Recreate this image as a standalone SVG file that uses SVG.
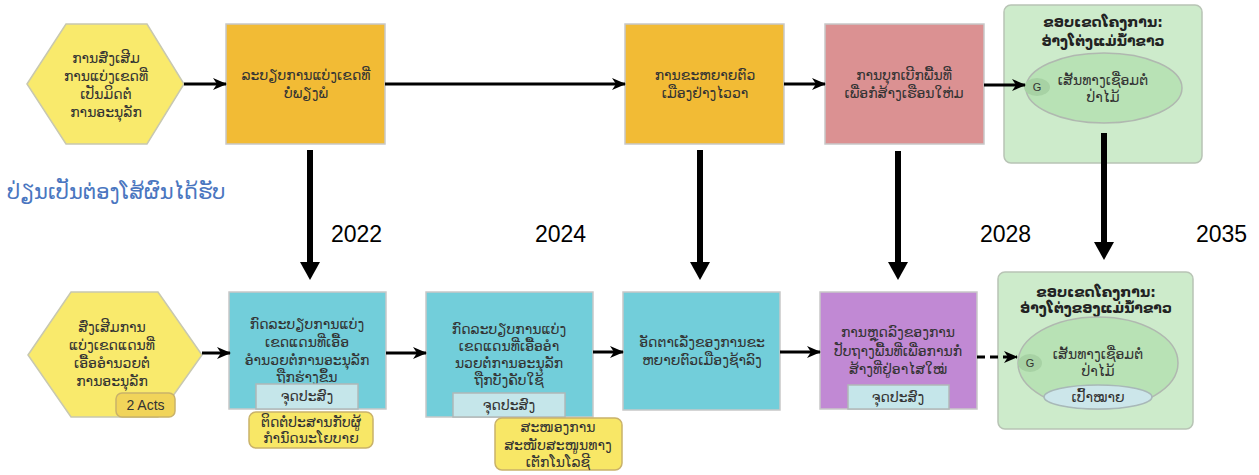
<svg xmlns="http://www.w3.org/2000/svg" width="1259" height="475" viewBox="0 0 1259 475">
<style>
.t{font-family:"DejaVu Sans","Noto Sans",sans-serif;font-size:14px;fill:#333;text-anchor:middle}
.b{font-weight:bold;fill:#222}
.yr{font-family:"Liberation Sans",Arial,sans-serif;font-size:23px;fill:#000}
.hex{fill:#f9ea6c;stroke:#c8c8b0;stroke-width:1.5}
.org{fill:#f2bb35;stroke:#c8c8c8;stroke-width:1.5}
.pink{fill:#db9192;stroke:#c8c8c8;stroke-width:1.5}
.cyan{fill:#72ceda;stroke:#c8c8c8;stroke-width:1.5}
.purp{fill:#c189d4;stroke:#c8c8c8;stroke-width:1.5}
.sub{fill:#c5e6ea;stroke:#b0b8b8;stroke-width:1.5}
.note{fill:#f8e766;stroke:#c9b26a;stroke-width:1.5}
.cont{fill:#cdebcb;stroke:#b8c4b5;stroke-width:1.5}
.ell{fill:#b8e2b5;stroke:#b0b8b0;stroke-width:1.5}
.g{fill:#a7d2a4}
.h{stroke:#000;stroke-width:3;fill:none}
.v{stroke:#000;stroke-width:6;fill:none}
</style>
<defs>
<marker id="ah" markerWidth="14" markerHeight="12" refX="13" refY="6" orient="auto" markerUnits="userSpaceOnUse"><path d="M0,0 L14,6 L0,12 L4,6 z" fill="#000"/></marker>
<marker id="ahb" markerWidth="20" markerHeight="20" refX="3" refY="10" orient="auto" markerUnits="userSpaceOnUse"><path d="M0,0 L18,10 L0,20 z" fill="#000"/></marker>
</defs>

<text x="7" y="199" style="font-family:'DejaVu Sans','Noto Sans',sans-serif;font-size:21px;fill:#4a76c0">ປ່ຽນເປັນຕ່ອງໂສ້ຜົນໄດ້ຮັບ</text>
<text class="yr" x="331" y="242">2022</text>
<text class="yr" x="535" y="242">2024</text>
<text class="yr" x="980" y="242">2028</text>
<text class="yr" x="1196" y="242">2035</text>

<g id="hex1">
<polygon class="hex" points="27,84 66,24 147,24 184,84 147,144 66,144"/>
<text class="t"><tspan x="106" y="63">ການສົ່ງເສີມ</tspan><tspan x="106" y="81">ການແບ່ງເຂດທີ່</tspan><tspan x="106" y="99">ເປັນມິດຕໍ່</tspan><tspan x="106" y="117">ການອະນຸລັກ</tspan></text>
</g>
<g id="box2">
<rect class="org" x="226" y="24" width="159" height="120"/>
<text class="t"><tspan x="306" y="80">ລະບຽບການແບ່ງເຂດທີ່</tspan><tspan x="306" y="98">ບໍ່ພຽງພໍ</tspan></text>
</g>
<g id="box3">
<rect class="org" x="625" y="24" width="159" height="120"/>
<text class="t"><tspan x="705" y="80">ການຂະຫຍາຍຕົວ</tspan><tspan x="705" y="98">ເມືອງຢ່າງໄວວາ</tspan></text>
</g>
<g id="box4">
<rect class="pink" x="825" y="24" width="159" height="120"/>
<text class="t"><tspan x="904" y="80">ການບຸກເບີກພື້ນທີ່</tspan><tspan x="904" y="98">ເພື່ອກໍ່ສ້າງເຮືອນໃຫ່ມ</tspan></text>
</g>
<g id="scope1">
<rect class="cont" x="1004" y="5" width="198" height="158" rx="7"/>
<text class="t b"><tspan x="1103" y="27">ຂອບເຂດໂຄງການ:</tspan><tspan x="1103" y="46">ອ່າງໂຕ່ງແມ່ນ້ຳຂາວ</tspan></text>
<ellipse class="ell" cx="1104" cy="88" rx="78" ry="35"/>
<ellipse class="g" cx="1037" cy="87" rx="13" ry="9"/>
<text class="t" x="1037" y="91" style="font-family:'Liberation Sans',sans-serif;font-size:11px">G</text>
<text class="t"><tspan x="1103" y="85">ເສັ້ນທາງເຊື່ອມຕໍ່</tspan><tspan x="1103" y="102">ປ່າໄມ້</tspan></text>
</g>

<g id="hex2">
<polygon class="hex" points="28,355 71,292 158,292 202,355 158,417 71,417"/>
<text class="t"><tspan x="112" y="332">ສົ່ງເສີມການ</tspan><tspan x="112" y="350">ແບ່ງເຂດແດນທີ່</tspan><tspan x="112" y="368">ເອື້ອອຳນວຍຕໍ່</tspan><tspan x="112" y="386">ການອະນຸລັກ</tspan></text>
<rect x="116" y="393" width="59" height="24" rx="6" fill="#f1d45a" stroke="#c9b26a" stroke-width="1.5"/>
<text class="t" x="145.5" y="410" style="font-family:'Liberation Sans',sans-serif;font-size:14px">2 Acts</text>
</g>
<g id="out1">
<rect class="cyan" x="229" y="292" width="157" height="117"/>
<text class="t"><tspan x="307" y="329">ກົດລະບຽບການແບ່ງ</tspan><tspan x="307" y="347">ເຂດແດນທີ່ເອື້ອ</tspan><tspan x="307" y="365">ອຳນວຍຕໍ່ການອະນຸລັກ</tspan><tspan x="307" y="382">ຖືກຮ່າງຂຶ້ນ</tspan></text>
<rect class="sub" x="256" y="384" width="102" height="25"/>
<text class="t" x="307" y="401">ຈຸດປະສົງ</text>
<rect class="note" x="249" y="412" width="124" height="36" rx="7"/>
<text class="t"><tspan x="311" y="427">ຕິດຕໍ່ປະສານກັບຜູ້</tspan><tspan x="311" y="443">ກຳນົດນະໂຍບາຍ</tspan></text>
</g>
<g id="out2">
<rect class="cyan" x="426" y="292" width="167" height="125"/>
<text class="t"><tspan x="509" y="334">ກົດລະບຽບການແບ່ງ</tspan><tspan x="509" y="351">ເຂດແດນທີ່ເອື້ອອຳ</tspan><tspan x="509" y="368">ນວຍຕໍ່ການອະນຸລັກ</tspan><tspan x="509" y="385">ຖືກບັງຄັບໃຊ້</tspan></text>
<rect class="sub" x="453" y="393" width="112" height="24"/>
<text class="t" x="509" y="410">ຈຸດປະສົງ</text>
<rect class="note" x="495" y="418" width="127" height="52" rx="7"/>
<text class="t"><tspan x="558" y="432">ສະໜອງການ</tspan><tspan x="558" y="450">ສະໜັບສະໜູນທາງ</tspan><tspan x="558" y="467">ເຕັກໂນໂລຊີ</tspan></text>
</g>
<g id="out3">
<rect class="cyan" x="623" y="292" width="157" height="118"/>
<text class="t"><tspan x="702" y="347">ອັດຕາເລັ່ງຂອງການຂະ</tspan><tspan x="702" y="365">ຫຍາຍຕົວເມືອງຊ້າລົງ</tspan></text>
</g>
<g id="out4">
<rect class="purp" x="820" y="292" width="157" height="117"/>
<text class="t"><tspan x="898" y="337">ການຫຼຸດລົງຂອງການ</tspan><tspan x="898" y="356">ປັບຖາງພື້ນທີ່ເພື່ອການກໍ່</tspan><tspan x="898" y="374">ສ້າງທີ່ຢູ່ອາໄສໃໝ່</tspan></text>
<rect class="sub" x="848" y="385" width="101" height="24"/>
<text class="t" x="898" y="402">ຈຸດປະສົງ</text>
</g>
<g id="scope2">
<rect class="cont" x="998" y="272" width="195" height="157" rx="7"/>
<text class="t b"><tspan x="1096" y="297">ຂອບເຂດໂຄງການ:</tspan><tspan x="1096" y="313">ອ່າງໂຕ່ງຂອງແມ່ນ້ຳຂາວ</tspan></text>
<ellipse class="ell" cx="1098" cy="363" rx="80" ry="46"/>
<ellipse class="g" cx="1030" cy="363" rx="12" ry="9"/>
<text class="t" x="1030" y="367" style="font-family:'Liberation Sans',sans-serif;font-size:11px">G</text>
<text class="t"><tspan x="1098" y="359">ເສັ້ນທາງເຊື່ອມຕໍ່</tspan><tspan x="1098" y="376">ປ່າໄມ້</tspan></text>
<ellipse cx="1098" cy="397" rx="54" ry="12" fill="#cce6ea" stroke="#a8b8b8" stroke-width="1.5"/>
<text class="t" x="1098" y="402">ເປົ້າໝາຍ</text>
</g>

<g id="connectors">
<line class="h" x1="184" y1="84" x2="226" y2="84" marker-end="url(#ah)"/>
<line class="h" x1="385" y1="84" x2="625" y2="84" marker-end="url(#ah)"/>
<line class="h" x1="784" y1="84" x2="825" y2="84" marker-end="url(#ah)"/>
<line class="h" x1="984" y1="85" x2="1025" y2="85" marker-end="url(#ah)"/>
<line class="v" x1="310" y1="150" x2="310" y2="265" marker-end="url(#ahb)"/>
<line class="v" x1="700" y1="150" x2="700" y2="265" marker-end="url(#ahb)"/>
<line class="v" x1="898" y1="151" x2="898" y2="265" marker-end="url(#ahb)"/>
<line class="v" x1="1104" y1="133" x2="1104" y2="245" marker-end="url(#ahb)"/>
<line class="h" x1="202" y1="353" x2="230" y2="353" marker-end="url(#ah)"/>
<line class="h" x1="386" y1="353" x2="426" y2="353" marker-end="url(#ah)"/>
<line class="h" x1="593" y1="352" x2="623" y2="352" marker-end="url(#ah)"/>
<line class="h" x1="780" y1="352" x2="820" y2="352" marker-end="url(#ah)"/>
<line class="h" x1="977" y1="357" x2="1017" y2="357" stroke-dasharray="8,5" marker-end="url(#ah)"/>
</g>
</svg>
